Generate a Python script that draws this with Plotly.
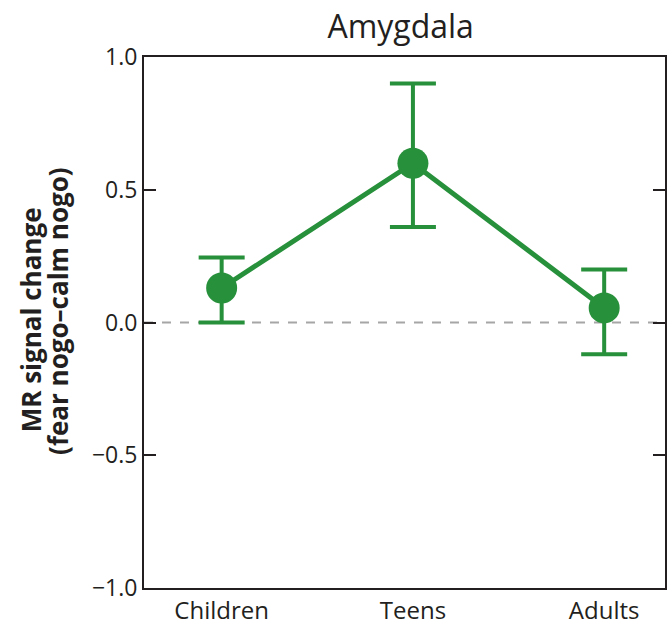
import plotly.graph_objects as go

groups = ["Children", "Teens", "Adults"]
means = [0.13, 0.60, 0.055]
err_upper = [0.245, 0.90, 0.20]
err_lower = [0.0, 0.36, -0.12]
ytitle_lines = ["MR signal change", "(fear nogo–calm nogo)"]

plus = [u - m for u, m in zip(err_upper, means)]
minus = [m - l for m, l in zip(means, err_lower)]

green = "#27903b"
ink = "#231f20"

fig = go.Figure()
fig.add_shape(type="line", xref="paper", yref="y", x0=0, x1=1, y0=0, y1=0,
              line=dict(color="#a6a6a6", width=2, dash="dash"), layer="below")
fig.add_trace(go.Scatter(
    x=groups, y=means, mode="lines+markers",
    line=dict(color=green, width=5),
    marker=dict(color=green, size=31),
    error_y=dict(type="data", symmetric=False, array=plus, arrayminus=minus,
                 color=green, thickness=4, width=23),
    showlegend=False,
))

for txt, px, py in zip(ytitle_lines, [-0.218, -0.164], [0.505, 0.521]):
    fig.add_annotation(text="<b>" + txt + "</b>", xref="paper", yref="paper",
                       x=px, y=py, xanchor="center", yanchor="middle",
                       textangle=-90, showarrow=False,
                       font=dict(size=26, family="Open Sans", color=ink))

fig.update_layout(
    width=670, height=629,
    margin=dict(l=144, r=3, t=57, b=37),
    paper_bgcolor="white", plot_bgcolor="white",
    font=dict(family="Open Sans", color=ink),
    title=dict(text="Amygdala", x=0.598, xanchor="center", y=0.957, yanchor="middle",
               font=dict(size=32, color=ink)),
    xaxis=dict(type="category", range=[-0.406, 2.318], showgrid=False, ticks="",
               showline=True, linecolor=ink, linewidth=2, mirror=True,
               tickfont=dict(size=24), zeroline=False),
    yaxis=dict(range=[-1, 1], tickvals=[-1, -0.5, 0, 0.5, 1], tickformat=".1f",
               showgrid=False, zeroline=False, ticks="inside", ticklen=12, tickwidth=2,
               tickcolor=ink, showline=True, linecolor=ink, linewidth=2,
               mirror="ticks", tickfont=dict(size=23)),
)

fig.write_html("out.html", config={"displayModeBar": False},
               post_script="document.body.style.margin='0';document.body.style.overflow='hidden';")
